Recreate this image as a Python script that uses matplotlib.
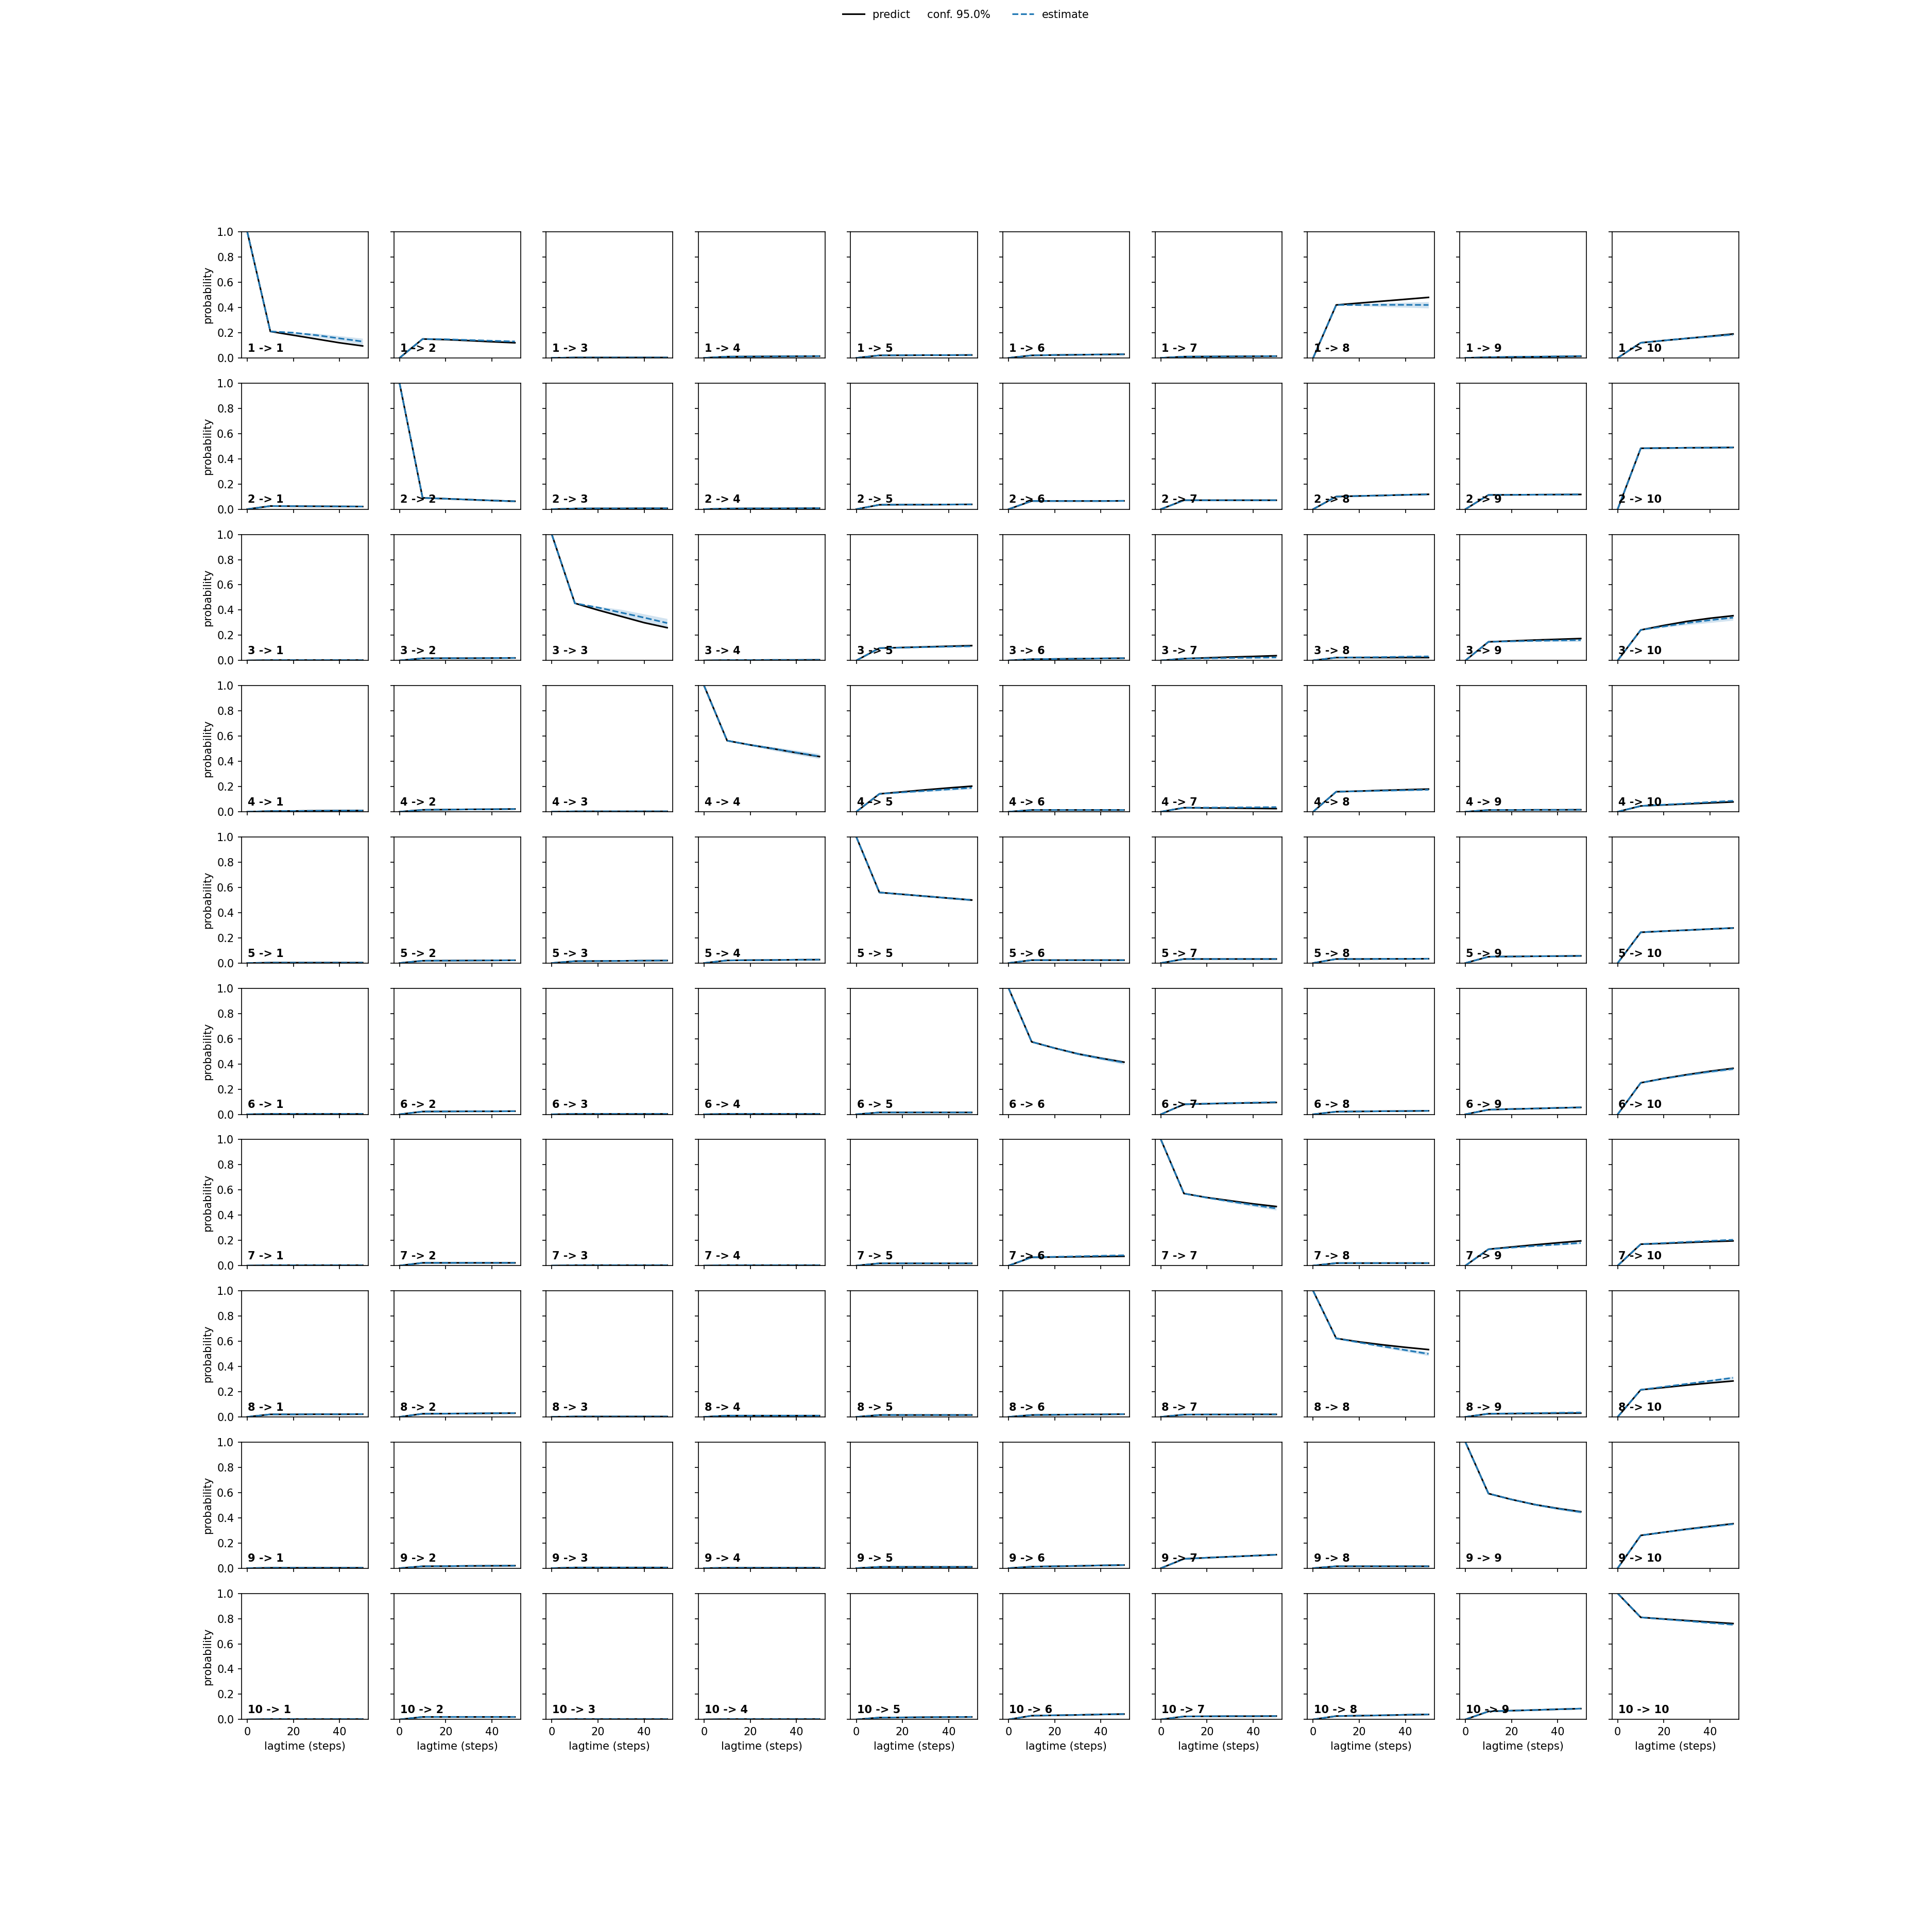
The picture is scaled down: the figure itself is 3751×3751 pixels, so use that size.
import matplotlib
matplotlib.use('Agg')
import matplotlib.pyplot as plt
import numpy as np

# Chapman-Kolmogorov test, 10 metastable states, lagtime 10 steps
lagtimes = [0, 10, 20, 30, 40, 50]
band_lags = [0, 10, 30, 50]
n_states = 10
conf_level = 0.95

# estimate at lag 10 (= prediction at lag 10)
est10 = [
    [.210, .150, .003, .010, .020, .020, .010, .420, .005, .120],
    [.025, .090, .005, .005, .035, .065, .071, .100, .113, .483],
    [.003, .017, .454, .003, .098, .010, .015, .023, .148, .242],
    [.005, .015, .003, .564, .142, .014, .032, .159, .014, .046],
    [.003, .018, .015, .021, .560, .023, .032, .032, .050, .244],
    [.003, .022, .003, .003, .015, .575, .080, .021, .037, .250],
    [.003, .022, .003, .003, .018, .066, .572, .020, .130, .170],
    [.020, .025, .003, .010, .015, .015, .018, .623, .025, .215],
    [.003, .015, .005, .003, .010, .012, .074, .015, .592, .260],
    [.003, .020, .003, .003, .015, .030, .024, .027, .064, .810],
]

# predictions (black)
pred20 = [
    [.180, .145, .003, .011, .021, .023, .011, .435, .007, .138],
    [.024, .083, .006, .006, .036, .065, .071, .105, .114, .485],
    [.003, .018, .400, .003, .103, .012, .021, .023, .155, .278],
    [.006, .017, .003, .530, .158, .014, .030, .164, .014, .054],
    [.003, .019, .016, .023, .545, .023, .032, .032, .052, .253],
    [.003, .023, .003, .003, .015, .525, .084, .023, .042, .285],
    [.003, .022, .003, .003, .018, .068, .540, .020, .148, .176],
    [.020, .026, .003, .010, .015, .017, .019, .595, .026, .233],
    [.003, .016, .005, .003, .010, .015, .083, .015, .545, .285],
    [.003, .020, .003, .003, .016, .033, .025, .030, .070, .797],
]
pred30 = [
    [.150, .137, .003, .012, .022, .025, .012, .450, .009, .155],
    [.023, .076, .006, .006, .036, .065, .071, .109, .115, .487],
    [.003, .018, .350, .004, .108, .014, .027, .023, .162, .310],
    [.008, .019, .003, .500, .174, .014, .029, .170, .015, .062],
    [.003, .020, .017, .024, .530, .023, .032, .033, .054, .261],
    [.003, .024, .003, .003, .015, .480, .088, .025, .046, .315],
    [.003, .022, .003, .003, .018, .070, .515, .020, .165, .183],
    [.021, .027, .003, .010, .015, .019, .019, .572, .028, .252],
    [.003, .018, .005, .003, .010, .018, .091, .015, .505, .310],
    [.003, .020, .003, .003, .018, .036, .026, .033, .075, .785],
]
pred40 = [
    [.120, .128, .003, .013, .022, .027, .013, .465, .011, .172],
    [.022, .069, .007, .007, .037, .065, .071, .114, .116, .488],
    [.003, .019, .300, .004, .113, .016, .032, .023, .168, .335],
    [.009, .020, .003, .468, .189, .014, .027, .175, .015, .070],
    [.003, .021, .019, .026, .515, .023, .032, .033, .055, .270],
    [.003, .024, .003, .003, .015, .445, .091, .026, .051, .342],
    [.003, .022, .003, .003, .018, .072, .490, .020, .181, .190],
    [.021, .029, .003, .010, .015, .020, .020, .552, .029, .269],
    [.003, .019, .005, .003, .010, .022, .099, .015, .474, .332],
    [.003, .020, .003, .003, .019, .040, .026, .037, .081, .773],
]
pred50 = [
    [.095, .120, .003, .014, .023, .029, .014, .480, .013, .190],
    [.021, .063, .007, .008, .038, .066, .071, .118, .117, .490],
    [.003, .020, .260, .005, .118, .018, .038, .023, .174, .355],
    [.010, .022, .003, .438, .203, .014, .025, .180, .016, .078],
    [.003, .022, .020, .027, .500, .023, .032, .034, .057, .278],
    [.003, .025, .003, .003, .015, .414, .094, .028, .055, .365],
    [.003, .022, .003, .003, .018, .074, .469, .020, .196, .196],
    [.022, .030, .003, .010, .015, .022, .020, .534, .030, .285],
    [.003, .020, .005, .003, .010, .025, .107, .015, .448, .353],
    [.003, .020, .003, .003, .020, .043, .027, .040, .086, .761],
]

# estimates (blue dashed)
est20 = [
    [.200, .148, .003, .011, .021, .023, .011, .420, .008, .138],
    [.024, .083, .006, .006, .036, .065, .071, .105, .114, .485],
    [.003, .018, .420, .003, .102, .012, .017, .025, .152, .270],
    [.006, .017, .003, .530, .154, .014, .033, .163, .014, .056],
    [.003, .019, .016, .023, .545, .023, .032, .032, .052, .253],
    [.003, .023, .003, .003, .015, .525, .085, .023, .042, .283],
    [.003, .022, .003, .003, .018, .070, .538, .020, .143, .179],
    [.020, .026, .003, .010, .015, .017, .019, .590, .028, .239],
    [.003, .016, .005, .003, .010, .015, .083, .015, .545, .285],
    [.003, .020, .003, .003, .016, .033, .025, .030, .070, .795],
]
est30 = [
    [.180, .142, .003, .012, .022, .025, .012, .421, .010, .155],
    [.023, .076, .006, .006, .036, .065, .071, .109, .115, .487],
    [.003, .018, .380, .004, .106, .014, .020, .027, .156, .297],
    [.008, .019, .003, .500, .166, .014, .034, .167, .015, .066],
    [.003, .020, .017, .024, .530, .023, .032, .033, .054, .261],
    [.003, .024, .003, .003, .015, .480, .089, .025, .046, .312],
    [.003, .022, .003, .003, .018, .074, .509, .020, .156, .188],
    [.021, .027, .003, .010, .015, .019, .019, .560, .030, .262],
    [.003, .018, .005, .003, .010, .018, .091, .015, .505, .308],
    [.003, .020, .003, .003, .018, .036, .026, .033, .075, .781],
]
est40 = [
    [.155, .136, .003, .013, .022, .027, .013, .421, .012, .170],
    [.022, .069, .007, .007, .037, .065, .071, .114, .116, .488],
    [.003, .019, .340, .004, .110, .016, .022, .030, .159, .320],
    [.009, .020, .003, .470, .178, .014, .035, .171, .015, .077],
    [.003, .021, .019, .026, .515, .023, .032, .033, .055, .270],
    [.003, .024, .003, .003, .015, .443, .093, .026, .051, .338],
    [.003, .022, .003, .003, .018, .078, .481, .020, .168, .196],
    [.021, .029, .003, .010, .015, .020, .020, .530, .033, .286],
    [.003, .019, .005, .003, .010, .022, .099, .015, .472, .329],
    [.003, .020, .003, .003, .019, .040, .026, .037, .081, .766],
]
est50 = [
    [.130, .130, .003, .014, .023, .029, .014, .420, .015, .185],
    [.021, .063, .007, .008, .038, .066, .071, .118, .117, .490],
    [.003, .020, .297, .005, .113, .018, .024, .032, .162, .340],
    [.010, .022, .003, .440, .190, .014, .037, .175, .016, .087],
    [.003, .022, .020, .027, .500, .023, .032, .034, .057, .278],
    [.003, .025, .003, .003, .015, .410, .097, .028, .055, .360],
    [.003, .022, .003, .003, .018, .082, .454, .020, .180, .205],
    [.022, .030, .003, .010, .015, .022, .020, .500, .035, .310],
    [.003, .020, .005, .003, .010, .025, .107, .015, .445, .350],
    [.003, .020, .003, .003, .020, .043, .027, .040, .086, .752],
]

# half width of the confidence band of the estimates at lag 30 and 50
conf30 = [
    [.015, .006, .002, .002, .002, .003, .002, .015, .002, .006],
    [.002, .004, .002, .002, .003, .003, .003, .004, .004, .005],
    [.001, .002, .025, .001, .004, .002, .003, .006, .008, .015],
    [.002, .002, .001, .015, .008, .002, .003, .005, .002, .004],
    [.001, .002, .002, .002, .006, .002, .002, .002, .002, .004],
    [.001, .002, .001, .001, .002, .010, .003, .002, .002, .007],
    [.001, .002, .001, .001, .002, .003, .010, .002, .006, .005],
    [.002, .002, .001, .002, .002, .002, .002, .010, .002, .008],
    [.001, .002, .001, .001, .002, .002, .003, .002, .008, .005],
    [.001, .002, .001, .001, .002, .002, .002, .002, .003, .004],
]
conf50 = [
    [.025, .010, .002, .003, .003, .004, .003, .025, .003, .010],
    [.003, .006, .002, .002, .004, .004, .004, .006, .005, .008],
    [.002, .003, .035, .002, .006, .003, .005, .010, .012, .022],
    [.002, .003, .001, .020, .010, .003, .004, .008, .002, .006],
    [.001, .003, .003, .003, .010, .003, .003, .003, .003, .006],
    [.001, .003, .001, .001, .003, .015, .005, .003, .003, .010],
    [.001, .003, .001, .001, .003, .004, .015, .003, .008, .008],
    [.003, .003, .001, .003, .003, .003, .003, .015, .003, .012],
    [.001, .003, .002, .001, .003, .003, .004, .003, .012, .008],
    [.001, .003, .001, .001, .003, .003, .003, .003, .004, .006],
]

lag0 = np.eye(n_states)
predictions = np.stack([lag0, est10, pred20, pred30, pred40, pred50])
estimates = np.stack([lag0, est10, est20, est30, est40, est50])
est_band = np.stack([lag0, est10, est30, est50])
width_band = np.stack([np.zeros((n_states, n_states)), np.zeros((n_states, n_states)), conf30, conf50])

fig, axes = plt.subplots(n_states, n_states, sharex=True, sharey=True, figsize=(25, 25))

for i in range(n_states):
    for j in range(n_states):
        ax = axes[i, j]
        ax.fill_between(band_lags, est_band[:, i, j] - width_band[:, i, j],
                        est_band[:, i, j] + width_band[:, i, j], color='C0', alpha=0.2, linewidth=0)
        l_pred, = ax.plot(lagtimes, predictions[:, i, j], color='k')
        l_est, = ax.plot(lagtimes, estimates[:, i, j], color='C0', linestyle='--')
        ax.text(0.05, 0.05, str(i + 1) + ' -> ' + str(j + 1), transform=ax.transAxes, weight='bold')
        ax.set_ylim(0, 1)
        if j == 0:
            ax.set_ylabel('probability')
        if i == n_states - 1:
            ax.set_xlabel('lagtime (steps)')

fig.legend([l_pred, l_est], ['predict     conf. {:.1f}%'.format(conf_level * 100), 'estimate'],
           loc='upper center', ncol=2, frameon=False)

fig.savefig('out.png', dpi=150.04)
